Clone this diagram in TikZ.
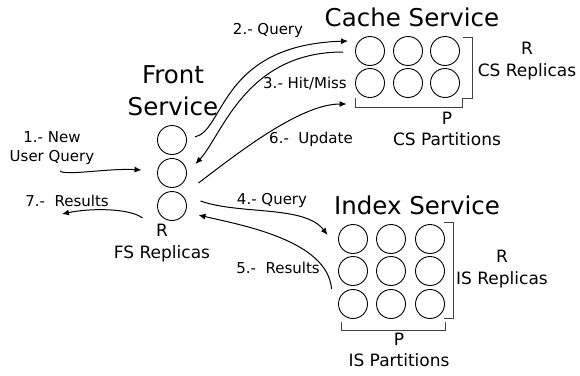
\documentclass[tikz,border=0pt]{standalone}
\usepackage{fontspec}
\setmainfont{DejaVu Sans}
\usetikzlibrary{arrows.meta}

\tikzset{
  replica/.style={draw, circle, line width=0.9pt, minimum size=29pt, inner sep=0pt},
  flow/.style={-{Latex[length=7pt,width=6pt]}, line width=1pt},
  bracket/.style={draw=black!75, line width=1pt},
  srvtitle/.style={font=\fontsize{24.5}{32}\selectfont, align=center},
  grouplbl/.style={font=\fontsize{17}{21.5}\selectfont, align=center},
  steplbl/.style={font=\fontsize{15}{19}\selectfont, align=center},
}

\begin{document}
\begin{tikzpicture}[x=1pt, y=-1pt]
\useasboundingbox (0,0) rectangle (580,375);

% ============================================================
% Front Service
% ============================================================
\node[srvtitle] (fstitle) at (173,91) {Front\\Service};
\node[replica] (fs1) at (172,140) {};
\node[replica] (fs2) at (172,173) {};
\node[replica] (fs3) at (172,206) {};
\node[grouplbl] (fsrep) at (162,243) {R\\FS Replicas};

% ============================================================
% Cache Service (R x P)
% ============================================================
\node[srvtitle] (cstitle) at (412,17) {Cache Service};
\node[replica] (cs11) at (370,51) {};
\node[replica] (cs12) at (408,51) {};
\node[replica] (cs13) at (445,51) {};
\node[replica] (cs21) at (370,83) {};
\node[replica] (cs22) at (408,83) {};
\node[replica] (cs23) at (445,83) {};

% brackets
\draw[bracket] (463,37) -- (472,37) -- (472,98) -- (463,98);
\draw[bracket] (355,98) -- (355,107) -- (462,107) -- (462,98);
\node[grouplbl] (csrep) at (527,61) {R\\CS Replicas};
\node[grouplbl] (cspart) at (447,129) {P\\CS Partitions};

% ============================================================
% Index Service (R x P)
% ============================================================
\node[srvtitle] (istitle) at (417,205) {Index Service};
\node[replica] (is11) at (353,239) {};
\node[replica] (is12) at (391,239) {};
\node[replica] (is13) at (430,239) {};
\node[replica] (is21) at (353,271) {};
\node[replica] (is22) at (391,271) {};
\node[replica] (is23) at (430,271) {};
\node[replica] (is31) at (353,304) {};
\node[replica] (is32) at (391,304) {};
\node[replica] (is33) at (430,304) {};

% brackets
\draw[bracket] (444,222) -- (453,222) -- (453,318) -- (444,318);
\draw[bracket] (341,322) -- (341,330) -- (445,330) -- (445,322);
\node[grouplbl] (isrep) at (502,269) {R\\IS Replicas};
\node[grouplbl] (ispart) at (399,350) {P\\IS Partitions};

% ============================================================
% Query flow
% ============================================================
\coordinate (userin) at (60,171);
\coordinate (userout) at (62,214);

% 1.- new query
\node[steplbl] (s1) at (52,148) {1.- New\\User Query};
\draw[flow] (userin) .. controls +(5,5) and +(-32,-2) .. ([shift={(-15.5,-3)}]fs2.west);

% 2.- / 3.- cache lookup
\node[steplbl] (s2) at (268,30) {2.- Query};
\draw[flow] ([shift={(8,-3)}]fs1.east) .. controls +(30,-7) and +(-128,4) .. ([shift={(-7,-10)}]cs11.west);
\node[steplbl] (s3) at (305,83) {3.- Hit/Miss};
\draw[flow] ([shift={(-12,1)}]cs11.west) .. controls +(-98,0) and +(27,-29) .. ([shift={(8.5,-9)}]fs2.east);

% 4.- / 5.- index lookup
\node[steplbl] (s4) at (272,200) {4.- Query};
\draw[flow] ([shift={(13.5,-5)}]fs3.east) .. controls +(40,14) and +(-23,-30) .. ([shift={(-10.5,-4)}]is11.west);
\node[steplbl] (s5) at (278,268) {5.-~~Results};
\draw[flow] ([shift={(-6.5,-15)}]is31.west) .. controls +(-4,-49) and +(42,10) .. ([shift={(11.5,9)}]fs3.east);

% 6.- cache update
\node[steplbl] (s6) at (311,139) {6.-~~Update};
\draw[flow] ([shift={(11.5,10)}]fs2.east) .. controls +(37,-28) and +(-47,0) .. ([shift={(-8.5,21)}]cs21.west);

% 7.- results
\node[steplbl] (s7) at (67,201) {7.-~~Results};
\draw[flow] ([shift={(-14.5,12)}]fs3.west) .. controls +(-13,-10) and +(28,-6) .. (userout);

\end{tikzpicture}
\end{document}
